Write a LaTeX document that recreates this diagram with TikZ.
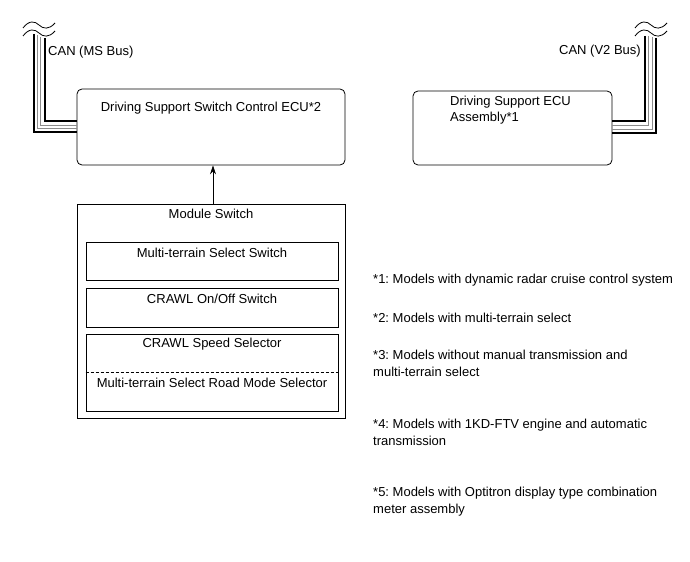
\documentclass[tikz,border=0pt]{standalone}
\usepackage{fontspec}
\setmainfont{Liberation Sans}
\usetikzlibrary{arrows.meta}
\frenchspacing
\begin{document}
\begin{tikzpicture}[x=1bp,y=-1bp,
  every node/.style={font=\fontsize{13bp}{16bp}\selectfont, inner sep=0pt},
  ecubox/.style={draw, rounded corners=5bp, line width=0.8bp},
  sqbox/.style={draw, line width=0.8bp},
  thickw/.style={line width=2bp},
  thinw/.style={line width=0.8bp, black!45},
  tildew/.style={line width=0.8bp},
  txt/.style={anchor=center},
  note/.style={anchor=west, align=left, font=\fontsize{13bp}{17bp}\selectfont}]
\useasboundingbox (0,0) rectangle (690,562);
% boxes
\node[ecubox, minimum width=268bp, minimum height=76bp] (ecu1) at (211,127) {};
\node[ecubox, minimum width=199bp, minimum height=74bp] (ecu2) at (512.5,128) {};
\node[sqbox, minimum width=268bp, minimum height=214bp] (mod) at (211,311) {};
\node[sqbox, minimum width=252bp, minimum height=38bp] (sw1) at (212,261) {};
\node[sqbox, minimum width=252bp, minimum height=39bp] (sw2) at (212,307.5) {};
\node[sqbox, minimum width=252bp, minimum height=77bp] (sw3) at (212,372.5) {};
\draw[dashed, line width=0.6bp, dash pattern=on 3bp off 2bp] (sw3.west) -- (sw3.east);
% texts
\node[txt] (t1) at (211,108) {Driving Support Switch Control ECU*2};
\node[anchor=north west, align=left, font=\fontsize{13bp}{15.5bp}\selectfont] (t2) at (450,96) {Driving Support ECU\\Assembly*1};
\node[txt] (tm) at (211,214) {Module Switch};
\node[txt] (ts1) at (212,253) {Multi-terrain Select Switch};
\node[txt] (ts2) at (212,299) {CRAWL On/Off Switch};
\node[txt] (ts3) at (212,344) {CRAWL Speed Selector};
\node[txt] (ts4) at (212,383) {Multi-terrain Select Road Mode Selector};
% arrow
\coordinate (a0) at ([xshift=2bp]mod.north);
\draw[-{Stealth[length=9bp,width=6bp]}, line width=0.8bp] (a0) -- (a0 |- ecu1.south);
% CAN labels
\node[anchor=west] (can1) at (48,52) {CAN (MS Bus)};
\node[anchor=east] (can2) at (641,51) {CAN (V2 Bus)};
% left wires
\coordinate (L1) at (ecu1.west |- 0,121);
\coordinate (L2) at (ecu1.west |- 0,125);
\coordinate (L3) at (ecu1.west |- 0,128.5);
\coordinate (L4) at (ecu1.west |- 0,132.5);
\draw[thinw] (40.7,37) |- (L2);
\draw[thinw] (37.5,35) |- (L3);
\draw[thickw] (44.5,38) |- (L1);
\draw[thickw] (33.5,34) |- (L4);
\draw[tildew] (23,28) .. controls (29,20) and (35,21) .. (39,25) .. controls (43,29) and (49,30) .. (55,23);
\draw[tildew] (23,36) .. controls (29,28) and (35,29) .. (39,33) .. controls (43,37) and (49,38) .. (55,31);
% right wires
\coordinate (R1) at (ecu2.east |- 0,121.5);
\coordinate (R2) at (ecu2.east |- 0,125.5);
\coordinate (R3) at (ecu2.east |- 0,129);
\coordinate (R4) at (ecu2.east |- 0,133);
\draw[thinw] (648.5,36) |- (R2);
\draw[thinw] (652,37) |- (R3);
\draw[thickw] (645,36) |- (R1);
\draw[thickw] (656,38) |- (R4);
\draw[tildew] (635,28) .. controls (641,20) and (647,21) .. (651,25) .. controls (655,29) and (661,30) .. (667,23);
\draw[tildew] (635,36) .. controls (641,28) and (647,29) .. (651,33) .. controls (655,37) and (661,38) .. (667,31);
% notes
\node[note] (n1) at (373,280) {*1: Models with dynamic radar cruise control system};
\node[note] (n2) at (373,318) {*2: Models with multi-terrain select};
\node[note, anchor=north west] (n3) at (373,350) {*3: Models without manual transmission and\\multi-terrain select};
\node[note, anchor=north west] (n4) at (373,419) {*4: Models with 1KD-FTV engine and automatic\\transmission};
\node[note, anchor=north west] (n5) at (373,487) {*5: Models with Optitron display type combination\\meter assembly};
\end{tikzpicture}
\end{document}
